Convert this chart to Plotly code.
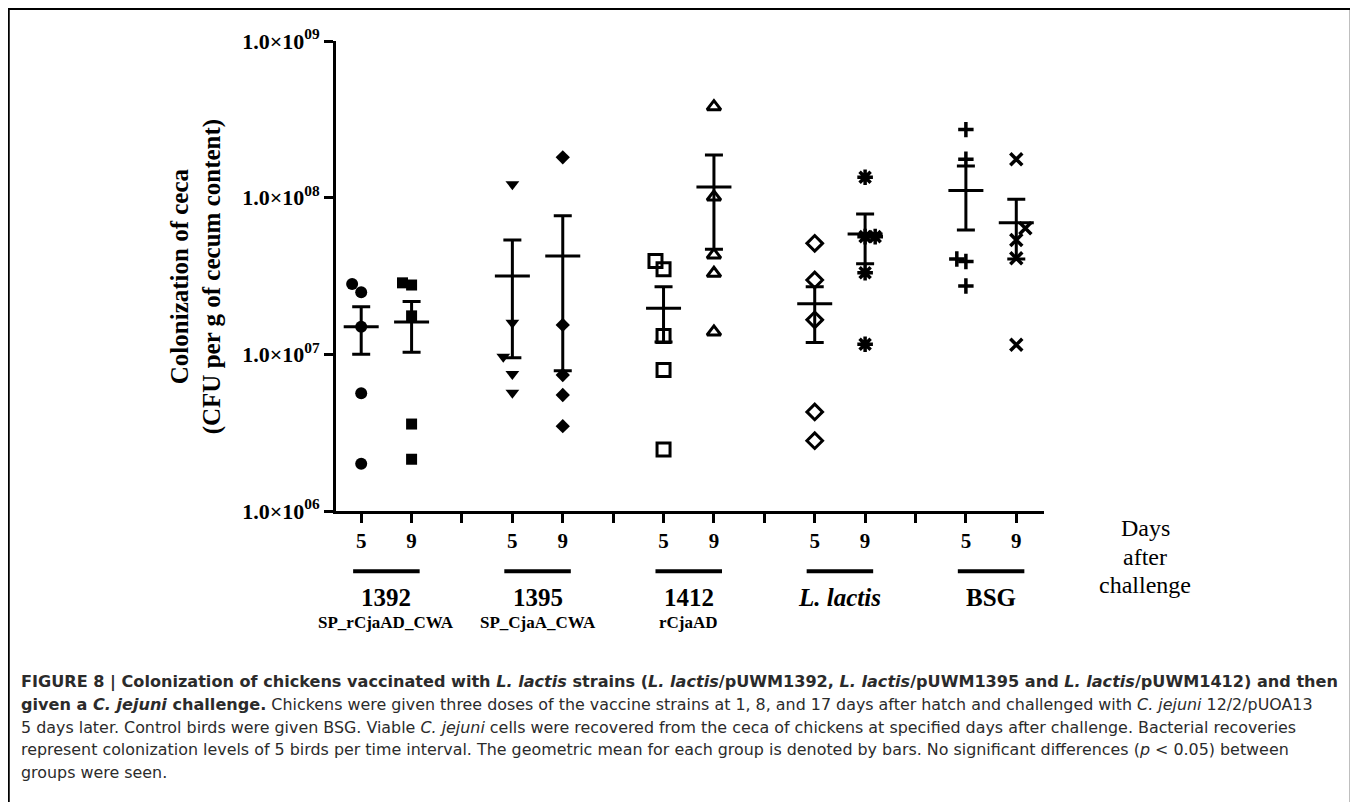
import plotly.graph_objects as go

# ---------------- data ----------------
groups = ["1392", "1395", "1412", "L. lactis", "BSG"]
subgroups = ["SP_rCjaAD_CWA", "SP_CjaA_CWA", "rCjaAD", "", ""]
days = ["5", "9"]

v_1392_d5 = [2.81e7, 2.49e7, 1.50e7, 5.64e6, 2.00e6]
v_1392_d9 = [2.86e7, 2.77e7, 1.76e7, 3.59e6, 2.14e6]
v_1395_d5 = [1.22e8, 1.59e7, 9.66e6, 7.48e6, 5.69e6]
v_1395_d9 = [1.81e8, 1.54e7, 7.38e6, 5.50e6, 3.48e6]
v_1412_d5 = [3.94e7, 3.49e7, 1.31e7, 7.94e6, 2.47e6]
v_1412_d9 = [3.81e8, 1.01e8, 4.31e7, 3.29e7, 1.39e7]
v_ll_d5 = [5.11e7, 2.98e7, 1.66e7, 4.29e6, 2.81e6]
v_ll_d9 = [1.35e8, 5.64e7, 5.64e7, 3.32e7, 1.16e7]
v_bsg_d5 = [2.72e8, 1.76e8, 4.06e7, 3.91e7, 2.73e7]
v_bsg_d9 = [1.76e8, 6.39e7, 5.37e7, 4.10e7, 1.15e7]

# horizontal scatter offsets of overlapping points (category units)
o_1392_d5 = [-0.18, 0, 0, 0, 0]
o_1392_d9 = [-0.18, 0, 0, 0, 0]
o_1395_d5 = [0, 0, -0.18, 0, 0]
o_1395_d9 = [0, 0, 0, 0, 0]
o_1412_d5 = [-0.16, 0, 0, 0, 0]
o_1412_d9 = [0, 0, 0, 0, 0]
o_ll_d5 = [0, 0, 0, 0, 0]
o_ll_d9 = [0, 0, 0.2, 0, 0]
o_bsg_d5 = [0, 0, -0.18, 0, 0]
o_bsg_d9 = [0, 0.18, 0, 0, 0]

# mean and SEM limits per series (same order as the series)
means = [1.50e7, 1.61e7, 3.16e7, 4.25e7, 1.97e7, 1.17e8, 2.10e7, 5.86e7, 1.11e8, 6.92e7]
sem_hi = [2.01e7, 2.17e7, 5.37e7, 7.67e7, 2.70e7, 1.87e8, 2.70e7, 7.87e7, 1.59e8, 9.77e7]
sem_lo = [1.00e7, 1.03e7, 9.50e6, 7.87e6, 1.20e7, 4.68e7, 1.19e7, 3.78e7, 6.22e7, 4.06e7]

y_tickvals = [1e6, 1e7, 1e8, 1e9]
y_ticktext = ["1.0×10<sup>06</sup>", "1.0×10<sup>07</sup>", "1.0×10<sup>08</sup>", "1.0×10<sup>09</sup>"]

series_values = [v_1392_d5, v_1392_d9, v_1395_d5, v_1395_d9, v_1412_d5,
                 v_1412_d9, v_ll_d5, v_ll_d9, v_bsg_d5, v_bsg_d9]
series_offsets = [o_1392_d5, o_1392_d9, o_1395_d5, o_1395_d9, o_1412_d5,
                  o_1412_d9, o_ll_d5, o_ll_d9, o_bsg_d5, o_bsg_d9]

# ---------------- layout geometry ----------------
OFF = 8                      # page body margin
W, H = 1358 - OFF, 802 - OFF
PL, PR, PT, PB = 336, 1044, 40.7, 510.7   # plot area in page pixels
PW, PH = PR - PL, PB - PT
ML, MT = PL - OFF, PT - OFF
MR, MB = W - ML - PW, H - MT - PH
SERIF = "Liberation Serif"
SANS = "DejaVu Sans"


def px2x(px):
    return (px - PL) / PW


def px2y(py):
    return (PB - py) / PH


symbols = ["circle", "square", "triangle-down", "diamond", "square-open",
           "triangle-up-open", "diamond-open", "asterisk-open", "cross-thin-open", "x-thin-open"]
sizes = [12, 11, 12, 11, 13, 12, 12, 13, 11, 12]
line_w = [0, 0, 0, 0, 3, 3, 3, 3.5, 3.5, 3.5]

fig = go.Figure()

positions = []
for gi in range(len(groups)):
    for di in range(len(days)):
        positions.append(3 * gi + 1 + di)

for k, vals in enumerate(series_values):
    xs = [positions[k] + o for o in series_offsets[k]]
    fig.add_trace(go.Scatter(
        x=xs, y=vals, mode="markers", showlegend=False,
        marker=dict(symbol=symbols[k], size=sizes[k], color="black",
                    line=dict(color="black", width=line_w[k])),
    ))

for k in range(len(means)):
    fig.add_trace(go.Scatter(
        x=[positions[k]], y=[means[k]], mode="markers", showlegend=False,
        marker=dict(symbol="line-ew", size=25, color="black",
                    line=dict(color="black", width=3)),
        error_y=dict(type="data", symmetric=False,
                     array=[sem_hi[k] - means[k]], arrayminus=[means[k] - sem_lo[k]],
                     color="black", thickness=3, width=9),
    ))

tickvals_x = list(range(1, 3 * len(groups)))
ticktext_x = []
for v in tickvals_x:
    r = (v - 1) % 3
    ticktext_x.append(days[r] if r < 2 else "")

fig.update_layout(
    width=W, height=H,
    margin=dict(l=ML, r=MR, t=MT, b=MB, pad=0),
    paper_bgcolor="white", plot_bgcolor="white",
    xaxis=dict(range=[0.5, 14.55], tickvals=tickvals_x, ticktext=ticktext_x,
               showgrid=False, zeroline=False, showline=True, linecolor="black",
               linewidth=3, ticks="outside", ticklen=9, tickwidth=3, tickcolor="black",
               tickfont=dict(family=SERIF, size=21, color="black", weight="bold")),
    yaxis=dict(type="log", range=[6, 9], tickvals=y_tickvals, ticktext=y_ticktext,
               showgrid=False, zeroline=False, showline=True, linecolor="black",
               linewidth=3, ticks="outside", ticklen=9, tickwidth=3, tickcolor="black",
               tickfont=dict(family=SERIF, size=22, color="black", weight="bold")),
)

annotations = []
shapes = []

# y-axis title
annotations.append(dict(
    xref="paper", yref="paper", x=px2x(196), y=px2y(277), textangle=-90,
    text="Colonization of ceca<br>(CFU per g of cecum content)", showarrow=False,
    font=dict(family=SERIF, size=25, color="black", weight="bold"),
    xanchor="center", yanchor="middle"))

# group bars and labels
for gi, g in enumerate(groups):
    c = 3 * gi + 1.5
    shapes.append(dict(type="line", xref="x", yref="paper", x0=c - 0.66, x1=c + 0.66,
                       y0=px2y(571), y1=px2y(571), line=dict(color="black", width=4)))
    italic = g.startswith("L.")
    annotations.append(dict(
        xref="x", yref="paper", x=c, y=px2y(597), text=g, showarrow=False,
        font=dict(family=SERIF, size=25, color="black", weight="bold",
                  style="italic" if italic else "normal"),
        xanchor="center", yanchor="middle"))
    if subgroups[gi]:
        annotations.append(dict(
            xref="x", yref="paper", x=c, y=px2y(622), text=subgroups[gi], showarrow=False,
            font=dict(family=SERIF, size=17, color="black", weight="bold"),
            xanchor="center", yanchor="middle"))

# "Days after challenge"
for txt, py in zip(["Days", "after", "challenge"], [528, 557, 585]):
    annotations.append(dict(
        xref="paper", yref="paper", x=px2x(1145), y=px2y(py), text=txt, showarrow=False,
        font=dict(family=SERIF, size=24, color="black"),
        xanchor="center", yanchor="middle"))

# caption
BS = '<span style="font-size:16.1px"><b>'
BE = '</b></span>'
caption_lines = [
    BS + "FIGURE 8 | Colonization of chickens vaccinated with <i>L. lactis</i> strains (<i>L. lactis</i>/pUWM1392, <i>L. lactis</i>/pUWM1395 and <i>L. lactis</i>/pUWM1412) and then" + BE,
    BS + "given a <i>C. jejuni</i> challenge." + BE + " Chickens were given three doses of the vaccine strains at 1, 8, and 17 days after hatch and challenged with <i>C. jejuni</i> 12/2/pUOA13",
    "5 days later. Control birds were given BSG. Viable <i>C. jejuni</i> cells were recovered from the ceca of chickens at specified days after challenge. Bacterial recoveries",
    "represent colonization levels of 5 birds per time interval. The geometric mean for each group is denoted by bars. No significant differences (<i>p</i> &lt; 0.05) between",
    "groups were seen.",
]
for line, py in zip(caption_lines, [681.5, 704.5, 727, 749.5, 772]):
    annotations.append(dict(
        xref="paper", yref="paper", x=px2x(19), y=px2y(py), text=line, showarrow=False,
        font=dict(family=SANS, size=15.9, color="#2b2b2b"),
        xanchor="left", yanchor="middle"))

# outer frame (bottom edge runs off the page)
shapes.append(dict(type="rect", xref="paper", yref="paper",
                   x0=px2x(8.5), x1=px2x(1351), y0=px2y(840), y1=px2y(8.5),
                   line=dict(color="black", width=2.5), fillcolor="rgba(0,0,0,0)"))

fig.update_layout(annotations=annotations, shapes=shapes)
fig.write_html("out.html")
